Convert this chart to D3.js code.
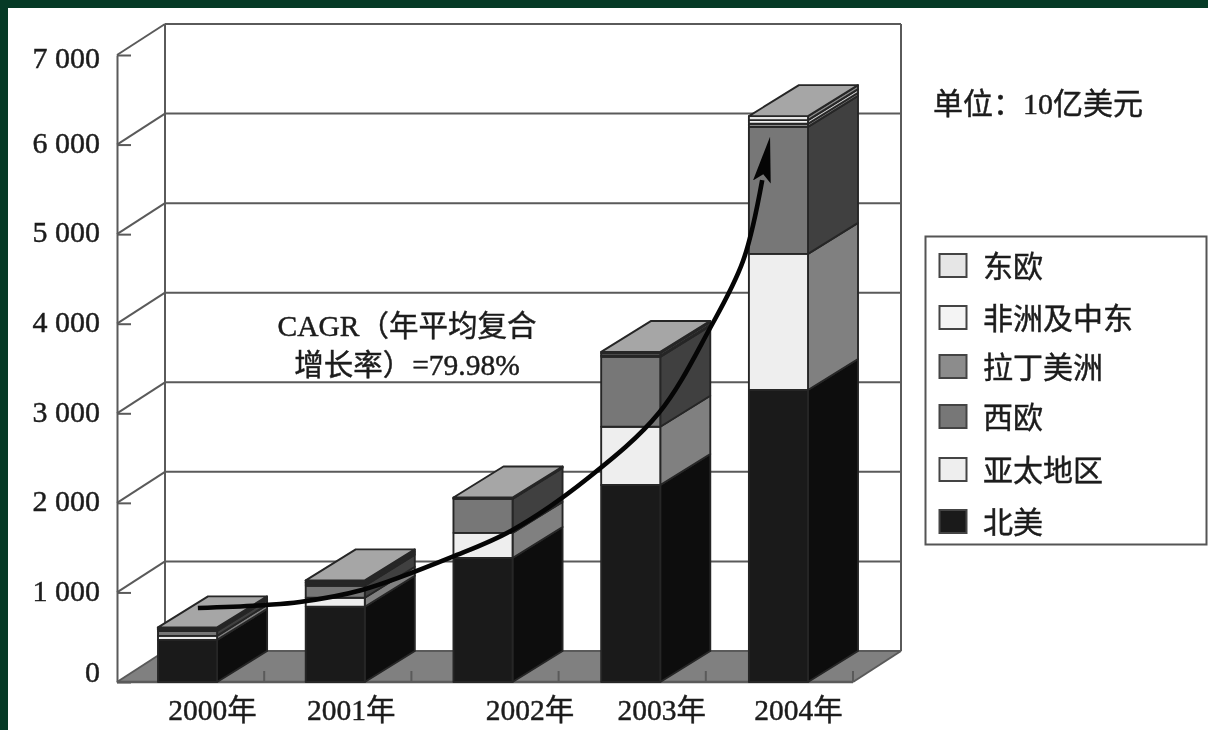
<!DOCTYPE html>
<html>
<head>
<meta charset="utf-8">
<script src="https://cdn.jsdelivr.net/npm/d3@7"></script>
<style>
  html, body { margin: 0; padding: 0; background: #063a26; overflow: hidden; }
  svg { display: block; filter: blur(0.6px); }
  text { font-family: "Liberation Serif", "Noto Sans CJK SC", serif; fill: #1c1c1c; stroke: #1c1c1c; stroke-width: 0.45px; }
</style>
</head>
<body>
<div id="chart"></div>
<script>
const years = ["2000", "2001", "2002", "2003", "2004"];
const yTicks = [0, 1000, 2000, 3000, 4000, 5000, 6000, 7000];

const northAmerica = [470, 840, 1385, 2200, 3260];
const asiaPacific = [45, 100, 280, 650, 1520];
const westernEurope = [55, 135, 380, 780, 1418];
const latinAmerica = [20, 20, 5, 15, 35];
const middleEastAfrica = [10, 20, 5, 25, 40];
const easternEurope = [10, 20, 5, 15, 45];

const seriesNames = ["北美", "亚太地区", "西欧", "拉丁美洲", "非洲及中东", "东欧"];
const seriesValues = [northAmerica, asiaPacific, westernEurope, latinAmerica, middleEastAfrica, easternEurope];

// CAGR arrow, in year index / value units
const cagrIndex = [0.07, 0.53, 0.76, 1.18, 1.79, 2.2, 2.72, 3.19, 3.53, 3.76, 3.89];
const cagrValues = [826, 860, 893, 1027, 1396, 1697, 2289, 3003, 3930, 4700, 5604];

const frontColors = ["#1a1a1a", "#eeeeee", "#777777", "#8c8c8c", "#f4f4f4", "#e6e6e6"];
const sideColors = ["#0d0d0d", "#808080", "#404040", "#777777", "#c8c8c8", "#8a8a8a"];

const width = 1208, height = 730;
const depthX = 48, depthY = 31;   // shift from front plane to back wall
const barDepthX = 50;
const x0 = 117, x1 = 853, y0 = 682, y7 = 55;

const svg = d3.select("#chart").append("svg")
  .attr("width", width).attr("height", height);

svg.append("rect").attr("x", 8).attr("y", 8)
  .attr("width", width).attr("height", height).attr("fill", "#fff");

const yScale = d3.scaleLinear().domain([0, 7000]).range([y0, y7]);
const xScale = d3.scaleBand().domain(years).range([x0, 849])
  .paddingInner(0.6).paddingOuter(0.2775);
const xIndex = d3.scaleLinear().domain([0, 4])
  .range([xScale(years[0]) + xScale.bandwidth() / 2, xScale(years[4]) + xScale.bandwidth() / 2]);

const lineColor = "#5a5a5a";

// floor
svg.append("polygon")
  .attr("points", [[x0, y0], [x0 + depthX, y0 - depthY], [x1 + depthX, y0 - depthY], [x1, y0]].join(" "))
  .attr("fill", "#808080");

const walls = svg.append("g").attr("fill", "none").attr("stroke", lineColor).attr("stroke-width", 2);

// back wall grid and left wall diagonals
yTicks.forEach(v => {
  const y = yScale(v);
  walls.append("line").attr("x1", x0 + depthX).attr("x2", x1 + depthX)
    .attr("y1", y - depthY).attr("y2", y - depthY);
  walls.append("line").attr("x1", x0).attr("x2", x0 + depthX)
    .attr("y1", y).attr("y2", y - depthY);
});
[x0 + depthX, x1 + depthX].forEach(x => {
  walls.append("line").attr("x1", x).attr("x2", x)
    .attr("y1", yScale(7000) - depthY).attr("y2", y0 - depthY);
});
walls.append("line").attr("x1", x1).attr("x2", x1 + depthX)
  .attr("y1", y0).attr("y2", y0 - depthY);

// small ticks on the floor front edge
d3.range(1, 6).forEach(i => {
  const x = x0 + i * (x1 - x0) / 5;
  walls.append("line").attr("x1", x).attr("x2", x).attr("y1", y0).attr("y2", y0 - 11);
});

// axes
const fmt = d3.formatLocale({ decimal: ".", thousands: " ", grouping: [3], currency: ["", ""] }).format(",");
const yAxis = d3.axisLeft(yScale).tickValues(yTicks).tickFormat(fmt)
  .tickSizeInner(-14).tickSizeOuter(0).tickPadding(17);
const yAxisG = svg.append("g").attr("transform", `translate(${x0},0)`).call(yAxis);
yAxisG.select(".domain").attr("stroke", lineColor).attr("stroke-width", 2);
yAxisG.selectAll(".tick line").attr("stroke", lineColor).attr("stroke-width", 2);
yAxisG.selectAll(".tick text")
  .style("font-size", "30px").attr("font-family", null).style("fill", "#1c1c1c")
  .attr("dy", d => d === 0 ? "-0.02em" : d === 7000 ? "0.42em" : "0.26em");

const labelShift = { "2000": 25, "2001": 16, "2002": 47, "2003": 31, "2004": 20 };
const xAxis = d3.axisBottom(xScale).tickSize(0).tickPadding(17).tickFormat(d => d + "年");
const xAxisG = svg.append("g").attr("transform", `translate(0,${y0})`).call(xAxis);
xAxisG.select(".domain").remove();
xAxisG.selectAll(".tick text")
  .style("font-size", "29.5px").attr("font-family", null).style("fill", "#1c1c1c")
  .attr("dx", d => labelShift[d]);
svg.append("line").attr("x1", x0).attr("x2", x1).attr("y1", y0).attr("y2", y0)
  .attr("stroke", lineColor).attr("stroke-width", 2.4);

// stacked 3d bars
const stacked = d3.stack().keys(d3.range(seriesNames.length))
  .value((row, k) => seriesValues[k][row])(d3.range(years.length));

const barStroke = "#262626";
years.forEach((year, i) => {
  const g = svg.append("g").attr("stroke", barStroke).attr("stroke-width", 1.9).attr("stroke-linejoin", "round");
  const left = xScale(year), right = left + xScale.bandwidth();
  stacked.forEach((layer, k) => {
    const yLow = yScale(layer[i][0]), yHigh = yScale(layer[i][1]);
    g.append("polygon")
      .attr("points", [[right, yLow], [right + barDepthX, yLow - depthY], [right + barDepthX, yHigh - depthY], [right, yHigh]].join(" "))
      .attr("fill", sideColors[k]);
    g.append("rect").attr("x", left).attr("y", yHigh)
      .attr("width", xScale.bandwidth()).attr("height", yLow - yHigh)
      .attr("fill", frontColors[k]);
  });
  const yTop = yScale(stacked[stacked.length - 1][i][1]);
  g.append("polygon")
    .attr("points", [[left, yTop], [left + barDepthX, yTop - depthY], [right + barDepthX, yTop - depthY], [right, yTop]].join(" "))
    .attr("fill", "#a6a6a6");
});

// CAGR arrow
const defs = svg.append("defs");
defs.append("marker").attr("id", "arrow")
  .attr("viewBox", "0 0 46 18").attr("refX", 2).attr("refY", 9)
  .attr("markerUnits", "userSpaceOnUse")
  .attr("markerWidth", 46).attr("markerHeight", 18)
  .attr("orient", "auto")
  .append("path").attr("d", "M0,0 L8,9 L0,18 L46,9 Z").attr("fill", "#050505");

const cagrLine = d3.line()
  .x((d, i) => xIndex(cagrIndex[i]))
  .y((d, i) => yScale(cagrValues[i]))
  .curve(d3.curveCatmullRom);
svg.append("path").datum(cagrValues)
  .attr("d", cagrLine)
  .attr("fill", "none").attr("stroke", "#050505").attr("stroke-width", 4.6)
  .attr("marker-end", "url(#arrow)");

// annotation text
svg.append("text").attr("x", 407).attr("y", 336).attr("text-anchor", "middle")
  .style("font-size", "29.5px").text("CAGR（年平均复合");
svg.append("text").attr("x", 407).attr("y", 375).attr("text-anchor", "middle")
  .style("font-size", "29.5px").text("增长率）=79.98%");
svg.append("text").attr("x", 933).attr("y", 114)
  .style("font-size", "30px").text("单位：10亿美元");

// legend
const legendRows = [266, 318, 367, 417, 470, 522];
svg.append("rect").attr("x", 925.5).attr("y", 236.5).attr("width", 281).attr("height", 308)
  .attr("fill", "#fff").attr("stroke", "#555").attr("stroke-width", 2);
const legend = svg.append("g");
seriesNames.slice().reverse().forEach((name, i) => {
  const k = seriesNames.length - 1 - i;
  legend.append("rect").attr("x", 939.5).attr("y", legendRows[i] - 12)
    .attr("width", 27).attr("height", 23)
    .attr("fill", frontColors[k]).attr("stroke", "#444").attr("stroke-width", 2);
  legend.append("text").attr("x", 983).attr("y", legendRows[i] + 11)
    .style("font-size", "30px").text(name);
});
</script>
</body>
</html>
